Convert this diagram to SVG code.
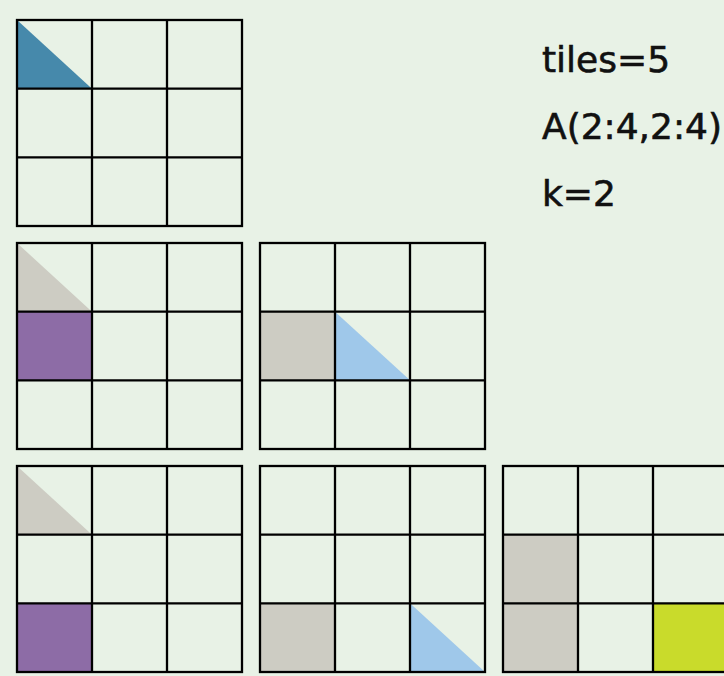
<svg xmlns="http://www.w3.org/2000/svg" xmlns:xlink="http://www.w3.org/1999/xlink" width="724" height="676" viewBox="0 0 724 676">
<style>
.bg{fill:#e8f2e6}
.g{fill:none;stroke:#000;stroke-width:2.3}
.tri{stroke:none}
.dark{fill:#4689ab}
.lblue{fill:#9fc8ea}
.grey{fill:#cdccc3}
.purple{fill:#8d6ca6}
.yellow{fill:#c9db2b}
.t{font-family:"DejaVu Sans",sans-serif;font-size:36px;fill:#111;stroke:#111;stroke-width:0.6}
</style>
<defs>
<g id="grid">
<rect class="g" x="0" y="0" width="225" height="206"/>
<path class="g" d="M75 0V206M150 0V206M0 68.67H225M0 137.33H225"/>
</g>
<path id="tri" d="M0 0L0 68.67L75 68.67Z"/>
<rect id="sq" x="0" y="0" width="75" height="68.67"/>
</defs>
<rect class="bg" x="0" y="0" width="724" height="676"/>
<g id="grid-1" transform="translate(17,20)">
<use xlink:href="#tri" class="dark"/>
<use xlink:href="#grid"/>
</g>
<g id="grid-2" transform="translate(17,243)">
<use xlink:href="#tri" class="grey"/>
<use xlink:href="#sq" class="purple" y="68.67"/>
<use xlink:href="#grid"/>
</g>
<g id="grid-3" transform="translate(260,243)">
<use xlink:href="#sq" class="grey" y="68.67"/>
<use xlink:href="#tri" class="lblue" x="75" y="68.67"/>
<use xlink:href="#grid"/>
</g>
<g id="grid-4" transform="translate(17,466)">
<use xlink:href="#tri" class="grey"/>
<use xlink:href="#sq" class="purple" y="137.33"/>
<use xlink:href="#grid"/>
</g>
<g id="grid-5" transform="translate(260,466)">
<use xlink:href="#sq" class="grey" y="137.33"/>
<use xlink:href="#tri" class="lblue" x="150" y="137.33"/>
<use xlink:href="#grid"/>
</g>
<g id="grid-6" transform="translate(503,466)">
<use xlink:href="#sq" class="grey" y="68.67"/>
<use xlink:href="#sq" class="grey" y="137.33"/>
<use xlink:href="#sq" class="yellow" x="150" y="137.33"/>
<use xlink:href="#grid"/>
</g>
<g id="labels">
<text class="t" x="542" y="71.7">tiles=5</text>
<text class="t" x="542" y="139.3">A(2:4,2:4)</text>
<text class="t" x="542" y="206">k=2</text>
</g>
<g id="connectors"/>
</svg>
